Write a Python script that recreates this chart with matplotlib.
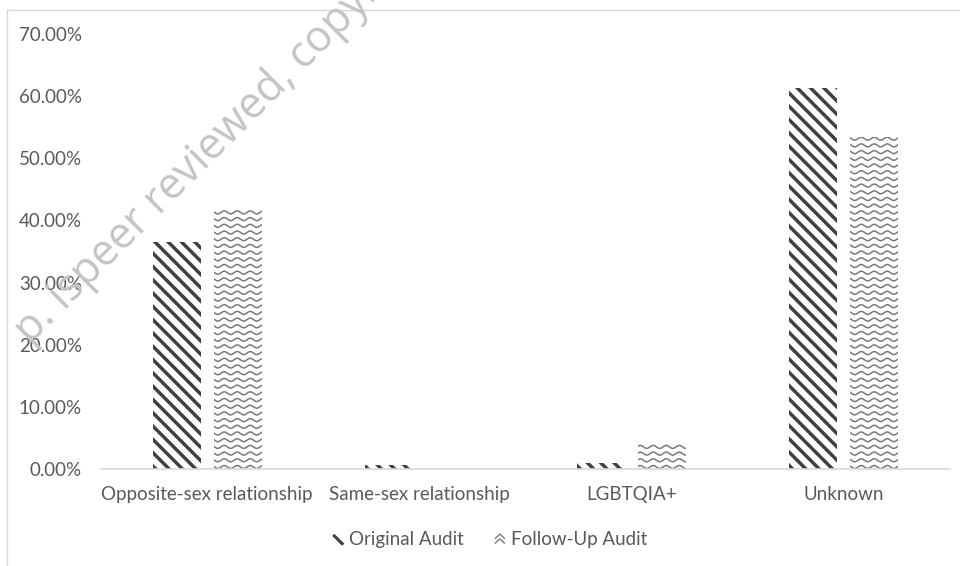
import numpy as np
import matplotlib
matplotlib.use('Agg')
import matplotlib.pyplot as plt
from matplotlib.lines import Line2D
from matplotlib.transforms import IdentityTransform
from matplotlib.legend_handler import HandlerBase

categories = ['Opposite-sex relationship', 'Same-sex relationship', 'LGBTQIA+', 'Unknown']
original_audit = [0.365, 0.007, 0.010, 0.613]
follow_up_audit = [0.420, 0.0, 0.040, 0.534]
y_ticks = [0.0, 0.1, 0.2, 0.3, 0.4, 0.5, 0.6, 0.7]

STRIPE = '#404040'
WAVE = '#7a7a7a'
TEXT = '#595959'
LINE = '#d9d9d9'

plt.rcParams['font.family'] = ['Lato', 'DejaVu Sans']


def clipped_line(ax, bar, xs, ys, **kw):
    ln = Line2D(xs, ys, transform=IdentityTransform(), **kw)
    ax.add_artist(ln)
    ln.set_clip_path(bar)  # after add_artist, otherwise the axes patch wins


def stripe_fill(ax, bar, spacing=13.3, lw=2.5):
    # "\" diagonal stripes drawn in pixels and clipped to the bar
    bb = bar.get_window_extent()
    if bb.height < 0.5:
        return
    h = bb.height + 20
    for s in np.arange(bb.x0 - h - spacing, bb.x1 + spacing, spacing):
        clipped_line(ax, bar, [s, s + h], [bb.y1 + 10, bb.y1 + 10 - h],
                     color=STRIPE, lw=lw, solid_capstyle='butt')


def wave_fill(ax, bar, row=6.7, period=13.0, amp=1.5, lw=1.1):
    # wavy lines pattern clipped to the bar
    bb = bar.get_window_extent()
    if bb.height < 0.5:
        return
    xs = np.linspace(bb.x0 - 5, bb.x1 + 5, 200)
    for y0 in np.arange(bb.y0 + 2, bb.y1 + row, row):
        clipped_line(ax, bar, xs, y0 + amp * np.sin(2 * np.pi * xs / period), color=WAVE, lw=lw)


class StripeHandler(HandlerBase):
    def create_artists(self, legend, orig_handle, xdescent, ydescent, width, height, fontsize, trans):
        x0, y0 = -xdescent, -ydescent
        ln = Line2D([x0 + width * 0.15, x0 + width * 0.85], [y0 + height * 0.75, y0 + height * 0.1],
                    color=STRIPE, lw=2.2, transform=trans)
        return [ln]


class WaveHandler(HandlerBase):
    def create_artists(self, legend, orig_handle, xdescent, ydescent, width, height, fontsize, trans):
        x0, y0 = -xdescent, -ydescent
        arts = []
        for dy in (0.45, 0.05):
            arts.append(Line2D([x0 + width * 0.1, x0 + width * 0.5, x0 + width * 0.9],
                               [y0 + height * (dy + 0.1), y0 + height * (dy + 0.45), y0 + height * (dy + 0.1)],
                               color=WAVE, lw=1.0, transform=trans))
        return arts


fig = plt.figure(figsize=(9.6, 5.66), dpi=100)
ax = fig.add_axes([101 / 960, 97 / 566, 849 / 960, 435 / 566])

x = np.arange(len(categories))
width = 0.226
offset = 0.144
bars1 = ax.bar(x - offset, original_audit, width, color='white', linewidth=0)
bars2 = ax.bar(x + offset, follow_up_audit, width, color='white', linewidth=0)

ax.set_xlim(-0.5, len(categories) - 0.5)
ax.set_ylim(0, 0.7)
ax.set_yticks(y_ticks)
ax.set_yticklabels(['{:.2f}%'.format(v * 100) for v in y_ticks])
ax.set_xticks(x)
ax.set_xticklabels(categories)
ax.tick_params(axis='both', length=0, labelsize=13.5, labelcolor=TEXT)
ax.tick_params(axis='y', pad=13.7)
ax.tick_params(axis='x', pad=12)
for side in ['left', 'right', 'top']:
    ax.spines[side].set_visible(False)
ax.spines['bottom'].set_color(LINE)
ax.spines['bottom'].set_linewidth(1.2)

fig.canvas.draw()
for b in bars1:
    stripe_fill(ax, b)
for b in bars2:
    wave_fill(ax, b)

h1 = Line2D([], [], label='Original Audit')
h2 = Line2D([], [], label='Follow-Up Audit')
fig.legend([h1, h2], ['Original Audit', 'Follow-Up Audit'],
           handler_map={h1: StripeHandler(), h2: WaveHandler()},
           loc='center', bbox_to_anchor=(490 / 960, 1 - 540 / 566),
           ncol=2, frameon=False, fontsize=13.5, handlelength=0.6, handleheight=0.6,
           handletextpad=0.3, columnspacing=1.6, labelcolor=TEXT)

# chart area border (left and top edges visible)
fig.add_artist(Line2D([7 / 960, 7 / 960], [0, 1 - 10 / 566], transform=fig.transFigure, color=LINE, lw=1))
fig.add_artist(Line2D([7 / 960, 1], [1 - 10 / 566, 1 - 10 / 566], transform=fig.transFigure, color=LINE, lw=1))

# watermark
fig.text(30 / 960, 1 - 345 / 566, 'p. ispeer reviewed, copyright', rotation=45, rotation_mode='anchor',
         ha='left', va='baseline', fontsize=31, color='#c4c4c4',
         family=['Open Sans', 'DejaVu Sans'])

fig.savefig('out.png', dpi=100)
